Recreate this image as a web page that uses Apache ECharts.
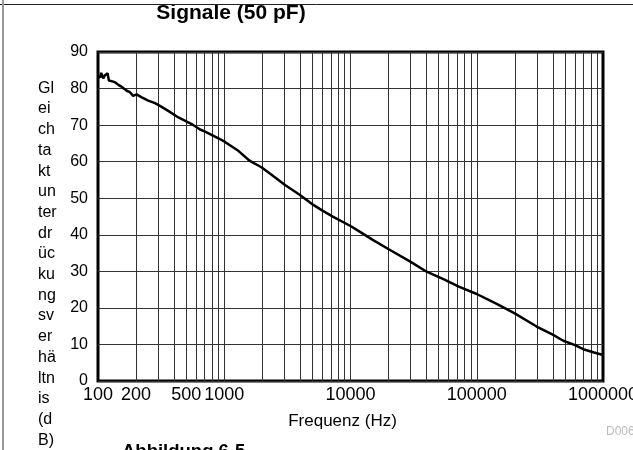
<!DOCTYPE html>
<html>
<head>
<meta charset="utf-8">
<script src="https://cdn.jsdelivr.net/npm/echarts@6/dist/echarts.min.js"></script>
<style>
  html, body { margin: 0; padding: 0; background: #fff; }
  #chart { width: 633px; height: 450px; }
</style>
</head>
<body>
<div id="chart"></div>
<script>
// Frequenz (Hz) und Gleichtaktunterdrückung (dB)
const freqs = [100, 102, 104, 106, 108, 110, 113, 116, 119, 122, 126, 132, 138, 145, 152, 159, 169, 179, 190, 202,
  222, 250, 283, 319, 360, 433, 552, 643, 705, 899, 1014, 1300, 1596, 1983, 2500, 3030, 3980, 5110, 6000, 7300,
  10000, 11900, 15000, 19920, 30000, 40100, 55000, 72100, 100000, 140000, 200000, 298000, 400000, 485000, 600000,
  698000, 850000, 1000000]
const cmrr = [83.4, 83.9, 83.0, 84.3, 83.4, 82.8, 83.6, 84.0, 84.2, 82.2, 82.4, 81.9, 81.6, 81.0, 80.6, 80.1, 79.4, 79.0, 78.0, 78.4,
  77.6, 76.7, 76.0, 75.0, 73.9, 72.1, 70.3, 68.8, 68.2, 66.4, 65.4, 62.9, 60.2, 58.4, 55.8, 53.6, 50.9, 48.1, 46.6, 44.9,
  42.4, 40.8, 38.6, 36.1, 32.6, 29.9, 27.8, 25.8, 23.8, 21.3, 18.5, 14.9, 12.7, 11.0, 9.8,
  8.7, 7.8, 7.1]

// Achsenbeschriftung und Gitter
const xLabels = [100, 200, 500, 1000, 10000, 100000, 1000000]
const gridFreqs = [200, 300, 400, 500, 600, 700, 800, 900, 1000,
  2000, 3000, 4000, 5000, 6000, 7000, 8000, 9000, 10000,
  20000, 30000, 40000, 50000, 60000, 70000, 80000, 90000, 100000,
  200000, 300000, 400000, 500000, 600000, 700000, 800000, 900000]
const yNameLines = ['Gl', 'ei', 'ch', 'ta', 'kt', 'un', 'ter', 'dr', 'üc', 'ku', 'ng', 'sv', 'er', 'hä', 'ltn', 'is', '(d', 'B)']

const font = 'Liberation Sans, Arial, sans-serif'
const chart = echarts.init(document.getElementById('chart'))

chart.setOption({
  animation: false,
  title: {
    text: 'Signale (50 pF)',
    left: 231,
    top: 3,
    padding: 0,
    textAlign: 'center',
    textStyle: { fontFamily: font, fontSize: 21, fontWeight: 'bold', color: '#000' }
  },
  grid: {
    left: 98, right: 30, top: 52, bottom: 69,
    outerBoundsMode: 'none',
    containLabel: false,
    show: true, borderColor: '#000', borderWidth: 3
  },
  xAxis: {
    type: 'log',
    logBase: 10,
    min: 100,
    max: 1000000,
    name: 'Frequenz (Hz)',
    nameLocation: 'middle',
    nameGap: 32,
    nameTextStyle: { fontFamily: font, fontSize: 17, color: '#000', padding: [0, 16, 0, 0] },
    axisLine: { show: false },
    axisTick: { show: false },
    splitLine: { show: false },
    axisLabel: {
      customValues: xLabels,
      margin: 5,
      hideOverlap: false,
      fontFamily: font, fontSize: 18, color: '#000',
      formatter: v => String(Math.round(v))
    }
  },
  yAxis: {
    type: 'value',
    min: 0,
    max: 90,
    interval: 10,
    axisLine: { show: false },
    axisTick: { show: false },
    splitLine: { lineStyle: { color: '#333', width: 1 } },
    axisLabel: { margin: 10, fontFamily: font, fontSize: 16, color: '#000' }
  },
  graphic: [
    { type: 'line', shape: { x1: 0, y1: 4.5, x2: 633, y2: 4.5 }, style: { stroke: '#222', lineWidth: 1 }, z: 10 },
    { type: 'line', shape: { x1: 3, y1: 0, x2: 3, y2: 450 }, style: { stroke: '#999', lineWidth: 2 }, z: 10 },
    {
      type: 'text', left: 38, top: 78,
      style: {
        text: yNameLines.join('\n'), fontFamily: font, fontSize: 16, lineHeight: 20.7,
        fill: '#000', align: 'left'
      }
    },
    { type: 'text', left: 606, top: 426, style: { text: 'D006', fontFamily: font, fontSize: 12, fill: '#bbb' } },
    { type: 'text', left: 122, top: 442, style: { text: 'Abbildung 6-5', fontFamily: font, fontSize: 18.5, fontWeight: 'bold', fill: '#000' } }
  ],
  series: [{
    type: 'line',
    data: freqs.map((f, i) => [f, cmrr[i]]),
    showSymbol: false,
    lineStyle: { color: '#000', width: 2.5 },
    z: 5,
    markLine: {
      silent: true,
      symbol: 'none',
      label: { show: false },
      lineStyle: { color: '#333', width: 1, type: 'solid' },
      data: gridFreqs.map(f => ({ xAxis: f }))
    }
  }]
})
</script>
</body>
</html>
